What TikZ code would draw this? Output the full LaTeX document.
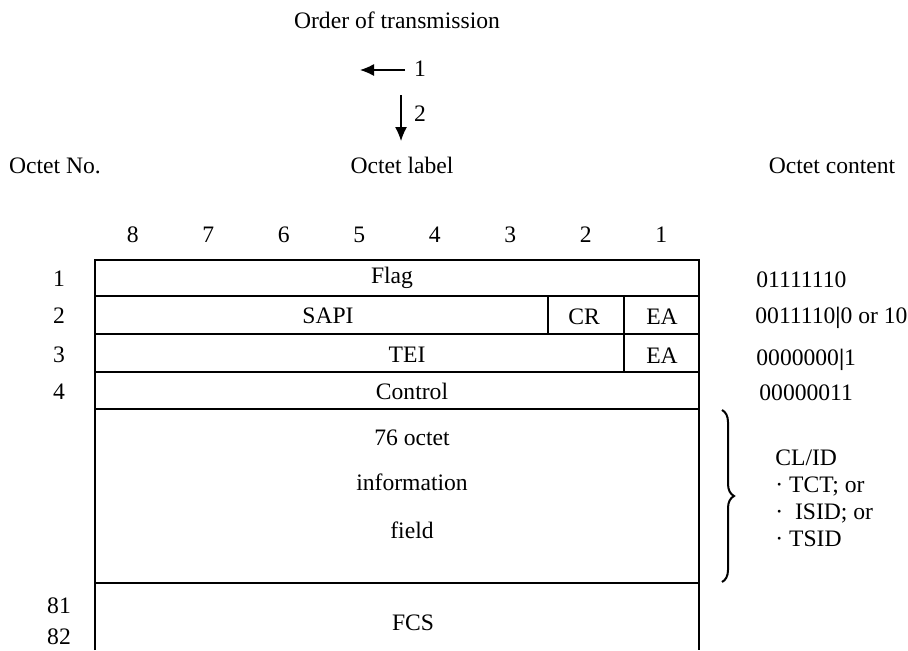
\documentclass[tikz,border=0pt]{standalone}
\usepackage{fontspec}
\setmainfont{Liberation Serif}
\usetikzlibrary{arrows.meta,decorations.pathreplacing}

\begin{document}
\begin{tikzpicture}[x=0.5pt,y=-0.5pt,
    every node/.style={font=\fontsize{11.8}{14}\selectfont, inner sep=0pt, anchor=base},
    frame/.style={line width=0.7pt},
    arr/.style={-{Latex[length=7pt,width=6pt]}, line width=0.6pt},
    content/.style={anchor=base west}]
  \useasboundingbox (0,0) rectangle (908,650);

  % order of transmission
  \node (order) at (397,28) {Order of transmission};
  \node (one) at (420,76) {1};
  \node (two) at (420,121) {2};
  \coordinate (lbeg) at (405,70);
  \coordinate (lend) at (360,70);
  \coordinate (dbeg) at (401,95);
  \coordinate (dend) at (401,141);
  \draw[arr] (lbeg) -- (lend);
  \draw[arr] (dbeg) -- (dend);

  % headings
  \node (hno) at (55,173) {Octet No.};
  \node (hlabel) at (402,173) {Octet label};
  \node (hcontent) at (832,173) {Octet content};

  % bit numbers
  \foreach \b [count=\i] in {8,7,6,5,4,3,2,1}
    \node (bit\b) at (95+75.5*\i-37.75,242) {\b};

  % octet numbers
  \foreach \n/\y in {1/286,2/323,3/362,4/399,81/613,82/644}
    \node (oct\n) at (59,\y) {\n};

  % frame
  \draw[frame] (95,650) -- (95,260) -- (699,260) -- (699,650);
  \foreach \y in {296,334,372,409,583}
    \draw[frame] (95,\y) -- (699,\y);
  \draw[frame] (548,296) -- (548,334);
  \draw[frame] (624,296) -- (624,372);

  % fields
  \node (flag) at (392,283) {Flag};
  \node (sapi) at (328,323) {SAPI};
  \node (cr) at (584,324) {CR};
  \node (ea1) at (662,324) {EA};
  \node (tei) at (407,362) {TEI};
  \node (ea2) at (662,363) {EA};
  \node (control) at (412,399) {Control};
  \node (info1) at (412,445) {76 octet};
  \node (info2) at (412,490) {information};
  \node (info3) at (412,538) {field};
  \node (fcs) at (413,630) {FCS};

  % octet content
  \node[content] (c1) at (756,287) {01111110};
  \node[content] (c2) at (755,323) {0011110{\bfseries|}0 or 10};
  \node[content] (c3) at (756,365) {0000000{\bfseries|}1};
  \node[content] (c4) at (759,400) {00000011};

  % brace
  \coordinate (brtop) at (722,410);
  \coordinate (brbot) at (722,582);
  \draw[decorate, decoration={brace, amplitude=6pt}, line width=1pt] (brtop) -- (brbot);
  \node[content] (id1) at (775,465) {CL/ID};
  \node[content] (id2) at (775,492) {· TCT; or};
  \node[content] (id3) at (775,519) {·\ \ ISID; or};
  \node[content] (id4) at (775,546) {· TSID};
\end{tikzpicture}
\end{document}
